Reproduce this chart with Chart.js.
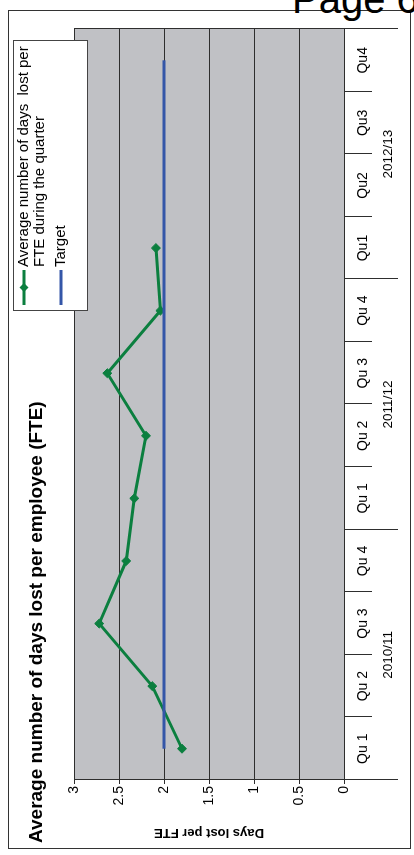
<!DOCTYPE html>
<html>
<head>
<meta charset="utf-8">
<script src="https://cdn.jsdelivr.net/npm/chart.js@4.4.1/dist/chart.umd.min.js"></script>
<style>
html,body{margin:0;padding:0;background:#fff;overflow:hidden;width:414px;height:855px;}
#frame{position:absolute;left:8px;top:10px;width:403px;height:839px;border:1px solid #333;box-sizing:border-box;}
#page{position:absolute;left:292px;top:-21px;font:40px "Liberation Sans",Arial,sans-serif;line-height:40px;color:#000;white-space:nowrap;}
#wrap{position:absolute;left:0;top:0;width:855px;height:414px;transform-origin:0 0;transform:translate(0,855px) rotate(-90deg);}
canvas{display:block;}
</style>
</head>
<body>
<div id="frame"></div>
<div id="page">Page 6</div>
<div id="wrap"><canvas id="c" width="855" height="414"></canvas></div>
<script>
// Quarterly sickness absence, financial years 2010/11 to 2012/13
const quarters = ['Qu 1','Qu 2','Qu 3','Qu 4','Qu 1','Qu 2','Qu 3','Qu 4','Qu1','Qu2','Qu3','Qu4'];
const years = ['2010/11','2011/12','2012/13'];
const daysLost = [1.8, 2.13, 2.72, 2.42, 2.33, 2.2, 2.63, 2.04, 2.09, null, null, null];
const target = [2, 2, 2, 2, 2, 2, 2, 2, 2, 2, 2, 2];
const valueTicks = [0, 0.5, 1, 1.5, 2, 2.5, 3];

const chartTitle = 'Average number of days lost per employee (FTE)';
const axisTitle = 'Days lost per FTE';
const seriesNames = [['Average number of days  lost per', 'FTE during the quarter'], ['Target']];

const FONT = '"Liberation Sans", Arial, sans-serif';
const GREEN = '#0b7f3f';
const BLUE = '#3456a8';
const GRID = '#2e2e2e';

const decor = {
  id: 'decor',
  beforeDraw(chart) {
    const {ctx, chartArea: a} = chart;
    ctx.save();
    ctx.fillStyle = '#c0c1c5';
    ctx.fillRect(a.left, a.top, a.right - a.left, a.bottom - a.top);
    ctx.restore();
  },
  afterDraw(chart) {
    const {ctx, chartArea: a, scales: {x}} = chart;
    ctx.save();
    ctx.strokeStyle = GRID;
    ctx.lineWidth = 1;
    // category separators, with longer marks between financial years
    for (let i = 0; i <= quarters.length; i++) {
      const px = Math.round(x.getPixelForValue(i - 0.5)) + 0.5;
      const edge = i === 0 || i === quarters.length;
      const len = i % 4 === 0 ? 54 : 28;
      ctx.beginPath();
      ctx.moveTo(px, edge ? a.top : a.bottom);
      ctx.lineTo(px, a.bottom + len);
      ctx.stroke();
    }
    // financial year labels centred under their four quarters
    ctx.fillStyle = '#000';
    ctx.font = '13.5px ' + FONT;
    ctx.textAlign = 'center';
    ctx.textBaseline = 'middle';
    years.forEach((yr, g) => {
      const c = (x.getPixelForValue(g * 4 - 0.5) + x.getPixelForValue(g * 4 + 3.5)) / 2;
      ctx.fillText(yr, c, a.bottom + 44);
    });

    // chart title
    ctx.font = 'bold 19px ' + FONT;
    ctx.textAlign = 'left';
    ctx.textBaseline = 'alphabetic';
    ctx.fillText(chartTitle, 12, 41.5);

    // legend
    const lx = 544, ly = 13, lw = 270, lh = 74;
    ctx.fillStyle = '#fff';
    ctx.fillRect(lx, ly, lw, lh);
    ctx.strokeStyle = '#444';
    ctx.strokeRect(lx + 0.5, ly + 0.5, lw, lh);
    const rows = [24, 61];
    chart.data.datasets.forEach((ds, i) => {
      const yy = rows[i];
      ctx.strokeStyle = ds.borderColor;
      ctx.lineWidth = 3;
      ctx.beginPath();
      ctx.moveTo(550, yy);
      ctx.lineTo(585, yy);
      ctx.stroke();
      if (ds.pointRadius > 0) {
        ctx.fillStyle = ds.borderColor;
        ctx.beginPath();
        ctx.moveTo(567.5, yy - 4.5);
        ctx.lineTo(572, yy);
        ctx.lineTo(567.5, yy + 4.5);
        ctx.lineTo(563, yy);
        ctx.closePath();
        ctx.fill();
      }
      ctx.fillStyle = '#000';
      ctx.font = '15px ' + FONT;
      ctx.textBaseline = 'middle';
      seriesNames[i].forEach((line, k) => ctx.fillText(line, 588, yy + k * 16));
    });
    ctx.restore();
  }
};

new Chart(document.getElementById('c'), {
  type: 'line',
  data: {
    labels: quarters,
    datasets: [
      {
        label: seriesNames[0].join(' '),
        data: daysLost,
        borderColor: GREEN,
        backgroundColor: GREEN,
        borderWidth: 3,
        pointStyle: 'rectRot',
        pointRadius: 4.5,
        pointBorderWidth: 1,
        pointBackgroundColor: GREEN,
        pointBorderColor: GREEN,
        tension: 0,
        order: 2
      },
      {
        label: seriesNames[1].join(' '),
        data: target,
        borderColor: BLUE,
        backgroundColor: BLUE,
        borderWidth: 3,
        pointRadius: 0,
        tension: 0,
        order: 1
      }
    ]
  },
  options: {
    responsive: false,
    animation: false,
    devicePixelRatio: 1,
    layout: {padding: {top: 74, right: 29, left: 0, bottom: 0}},
    plugins: {legend: {display: false}, title: {display: false}, tooltip: {enabled: false}},
    scales: {
      x: {
        type: 'category',
        offset: true,
        grid: {display: false, drawTicks: false},
        border: {display: true, color: GRID, width: 1},
        ticks: {color: '#000', font: {family: FONT, size: 14}, padding: 11, maxRotation: 0, autoSkip: false},
        afterFit: s => { s.height = 70; }
      },
      y: {
        min: 0,
        max: 3,
        afterBuildTicks: s => { s.ticks = valueTicks.map(v => ({value: v})); },
        grid: {color: GRID, lineWidth: 1, tickLength: 4, drawTicks: true, tickColor: GRID},
        border: {display: true, color: GRID, width: 1},
        ticks: {color: '#000', font: {family: FONT, size: 14}, padding: 2, callback: v => String(v)},
        title: {display: true, text: axisTitle, color: '#000', font: {family: FONT, size: 13, weight: 'bold'}, padding: {top: 15, bottom: 0}},
        afterFit: s => { s.width = 75; }
      }
    }
  },
  plugins: [decor]
});
</script>
</body>
</html>
